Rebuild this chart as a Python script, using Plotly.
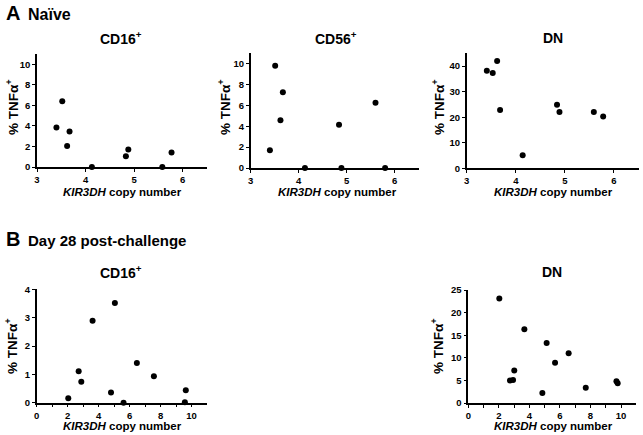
import plotly.graph_objects as go

W, H = 643, 435

# ---- data ----
naive_x = [3.40, 3.52, 3.62, 3.67, 4.13, 4.83, 4.88, 5.58, 5.77]
naive_cd16 = [3.85, 6.40, 2.05, 3.45, 0.0, 1.05, 1.70, 0.0, 1.40]
naive_cd56_x = [3.40, 3.51, 3.62, 3.67, 4.13, 4.84, 4.89, 5.60, 5.80]
naive_cd56 = [1.70, 9.77, 4.56, 7.25, 0.0, 4.14, 0.0, 6.25, 0.0]
naive_dn_x = [3.41, 3.53, 3.62, 3.68, 4.14, 4.84, 4.89, 5.59, 5.78]
naive_dn = [38.2, 37.3, 42.0, 22.8, 5.1, 24.9, 22.0, 22.0, 20.3]

d28_cd16_x = [2.04, 2.71, 2.88, 3.61, 4.80, 5.05, 5.61, 6.47, 7.57, 9.57, 9.63]
d28_cd16 = [0.16, 1.11, 0.74, 2.89, 0.36, 3.52, 0.0, 1.40, 0.93, 0.02, 0.44]
d28_dn_x = [2.03, 2.73, 2.93, 3.01, 3.67, 4.85, 5.13, 5.68, 6.57, 7.69, 9.70, 9.78]
d28_dn = [23.1, 5.0, 5.1, 7.2, 16.3, 2.2, 13.3, 8.9, 11.0, 3.4, 4.8, 4.35]

FONT = "Liberation Sans, Arial, sans-serif"

def px(x):
    return x / W

def py(y):
    return 1 - y / H

fig = go.Figure()

panels = [
    (naive_x, naive_cd16, (37, 207), (167, 54), [3, 6.5], dict(tickvals=[3, 4, 5, 6]), [0, 11], 2),
    (naive_cd56_x, naive_cd56, (250.7, 418.7), (168, 53), [3, 6.5], dict(tickvals=[3, 4, 5, 6]), [0, 11], 2),
    (naive_dn_x, naive_dn, (466.7, 638.5), (168.3, 53.3), [3, 6.5], dict(tickvals=[3, 4, 5, 6]), [0, 45], 10),
    (d28_cd16_x, d28_cd16, (36.7, 207), (402.7, 289.3), [0, 11], dict(tickvals=[0, 2, 4, 6, 8, 10]), [0, 4], 1),
    (d28_dn_x, d28_dn, (468.3, 636.3), (403, 290), [0, 11], dict(tickvals=[0, 2, 4, 6, 8, 10]), [0, 25], 5),
]

tickfont = dict(family=FONT, size=9.5, color="black", weight="bold")

for i, (xs, ys, xd, yd, xr, xt, yr, ydt) in enumerate(panels):
    n = i + 1
    xa = "x" if n == 1 else f"x{n}"
    ya = "y" if n == 1 else f"y{n}"
    fig.add_trace(go.Scatter(
        x=xs, y=ys, mode="markers", xaxis=xa, yaxis=ya,
        marker=dict(size=6, color="black"), cliponaxis=False, showlegend=False,
        hoverinfo="x+y",
    ))
    xkey = "xaxis" if n == 1 else f"xaxis{n}"
    ykey = "yaxis" if n == 1 else f"yaxis{n}"
    xaxis = dict(
        domain=[px(xd[0]), px(xd[1])], range=xr, anchor=ya, automargin=False,
        showline=True, linecolor="black", linewidth=1.5, ticks="outside",
        ticklen=3, tickwidth=1.2, tickcolor="black", showgrid=False, zeroline=False,
        tickfont=tickfont, tickmode="array", **xt,
    )
    if xr[0] == 0:
        xaxis["minor"] = dict(tickvals=[1, 3, 5, 7, 9], ticks="outside", ticklen=3,
                              tickwidth=1.2, tickcolor="black", showgrid=False)
    fig.layout[xkey] = xaxis
    fig.layout[ykey] = dict(
        domain=[py(yd[0]), py(yd[1])], range=yr, anchor=xa, automargin=False,
        showline=True, linecolor="black", linewidth=1.5, ticks="outside",
        ticklen=3, tickwidth=1.2, tickcolor="black", showgrid=False, zeroline=False,
        tickfont=tickfont, dtick=ydt, tick0=0,
    )

ann = []

def add_text(text, x, y, size, angle=0, xanchor="center"):
    ann.append(dict(text=text, x=px(x), y=py(y), xref="paper", yref="paper",
                    showarrow=False, xanchor=xanchor, yanchor="middle", textangle=angle,
                    font=dict(family=FONT, size=size, color="black", weight="bold")))

# section headers
add_text("A", 4, 13, 20, xanchor="left")
add_text("Naïve", 26, 14, 16, xanchor="left")
add_text("B", 4, 239, 20, xanchor="left")
add_text("Day 28 post-challenge", 26, 240, 15, xanchor="left")

# panel titles
add_text("CD16<sup>+</sup>", 121, 38, 14)
add_text("CD56<sup>+</sup>", 336, 38, 14)
add_text("DN", 553, 38, 14)
add_text("CD16<sup>+</sup>", 121, 272, 14)
add_text("DN", 552, 272, 14)

# y titles
ytitle = "% TNFα<sup>+</sup>"
add_text(ytitle, 12, 107, 13.5, angle=-90)
add_text(ytitle, 224, 107, 13.5, angle=-90)
add_text(ytitle, 438, 107, 13.5, angle=-90)
add_text(ytitle, 11, 346, 13.5, angle=-90)
add_text(ytitle, 437, 346, 13.5, angle=-90)

# x titles
xtitle = "<i>KIR3DH</i> copy number"
add_text(xtitle, 122, 192, 11.5)
add_text(xtitle, 337, 192, 11.5)
add_text(xtitle, 553, 192, 11.5)
add_text(xtitle, 122, 426, 11.5)
add_text(xtitle, 553, 426, 11.5)

fig.update_layout(
    width=W, height=H, margin=dict(l=0, r=0, t=0, b=0, autoexpand=False),
    paper_bgcolor="white", plot_bgcolor="white", annotations=ann,
    showlegend=False,
)

fig.write_html(
    "out.html",
    config={"displayModeBar": False},
    post_script="document.body.style.margin='0';document.body.style.overflow='hidden';",
)
